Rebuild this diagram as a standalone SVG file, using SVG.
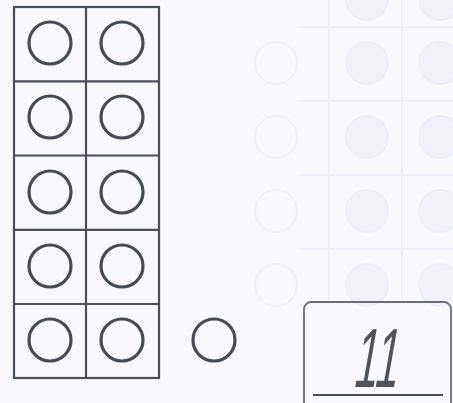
<svg xmlns="http://www.w3.org/2000/svg" width="453" height="403" viewBox="0 0 453 403">
<style>
.ghost{fill:none;stroke:#edf0f6;stroke-width:2}
.ghostf{fill:#f0f2f8;stroke:#ebeef5;stroke-width:1.5}
.grid{fill:none;stroke:#4b4f56;stroke-width:2.2}
.c{fill:none;stroke:#474b52;stroke-width:3.2}
.box{fill:none;stroke:#6a6e74;stroke-width:1.8}
.hw{font-family:"Liberation Sans",sans-serif;font-size:84px;fill:#50545a}
</style>
<rect width="453" height="403" fill="#f7f9fc"/>
<g id="bleed">
<path class="ghost" d="M329,0V300M402,0V300M300,27H453M300,101H453M300,175H453M300,249H453"/>
<circle class="ghost" cx="276" cy="63" r="21"/>
<circle class="ghost" cx="276" cy="137" r="21"/>
<circle class="ghost" cx="276" cy="211" r="21"/>
<circle class="ghost" cx="276" cy="285" r="21"/>
<circle class="ghostf" cx="367" cy="-1" r="21"/>
<circle class="ghostf" cx="440" cy="-1" r="21"/>
<circle class="ghostf" cx="367" cy="63" r="21"/>
<circle class="ghostf" cx="440" cy="63" r="21"/>
<circle class="ghostf" cx="367" cy="137" r="21"/>
<circle class="ghostf" cx="440" cy="137" r="21"/>
<circle class="ghostf" cx="367" cy="211" r="21"/>
<circle class="ghostf" cx="440" cy="211" r="21"/>
<circle class="ghostf" cx="367" cy="285" r="21"/>
<circle class="ghostf" cx="440" cy="285" r="21"/>
</g>
<g id="frame">
<rect class="grid" x="14" y="7" width="145" height="371"/>
<path class="grid" d="M86,7V378M14,81.3H159M14,155.5H159M14,229.8H159M14,304H159"/>
</g>
<g id="counters">
<circle class="c" cx="50" cy="43" r="21"/>
<circle class="c" cx="122" cy="43" r="21"/>
<circle class="c" cx="50" cy="117" r="21"/>
<circle class="c" cx="122" cy="117" r="21"/>
<circle class="c" cx="50" cy="192" r="21"/>
<circle class="c" cx="122" cy="192" r="21"/>
<circle class="c" cx="50" cy="266" r="21"/>
<circle class="c" cx="122" cy="266" r="21"/>
<circle class="c" cx="50" cy="340" r="21"/>
<circle class="c" cx="122" cy="340" r="21"/>
</g>
<g id="extra">
<circle class="c" cx="214" cy="340" r="21"/>
</g>
<g id="answer">
<rect class="box" x="304" y="302" width="147" height="110" rx="7"/>
<path d="M313,395H443" stroke="#4b4f56" stroke-width="2.2" fill="none"/>
<text class="hw" transform="translate(352,387) skewX(-10)" x="0" y="0" textLength="44" lengthAdjust="spacingAndGlyphs">11</text>
</g>
</svg>
